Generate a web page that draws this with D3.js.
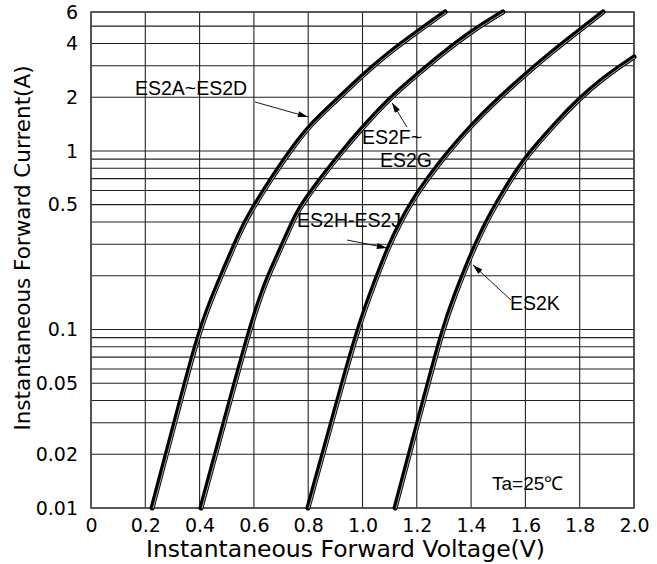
<!DOCTYPE html>
<html>
<head>
<meta charset="utf-8">
<script src="https://cdn.jsdelivr.net/npm/d3@7"></script>
<style>
body { margin: 0; background: #fff; }
</style>
</head>
<body>
<div id="chart"></div>
<script>
// forward characteristics (V, A)
var voltsAD = [0.225,0.313,0.401,0.468,0.549,0.586,0.685,0.744,0.807,0.906,1.002,1.101,1.201,1.304];
var ampsAD  = [0.01,0.0319,0.103,0.182,0.352,0.455,0.783,1.05,1.40,1.93,2.67,3.59,4.64,6.0];

var voltsFG = [0.405,0.495,0.586,0.641,0.685,0.726,0.759,0.807,0.862,0.924,1.002,1.101,1.201,1.293,1.403,1.517];
var ampsFG  = [0.01,0.0319,0.103,0.182,0.255,0.352,0.455,0.582,0.753,0.987,1.363,1.98,2.67,3.50,4.70,6.0];

var voltsHJ = [0.799,0.891,0.983,1.053,1.094,1.138,1.186,1.241,1.322,1.403,1.495,1.606,1.702,1.801,1.886];
var ampsHJ  = [0.01,0.0319,0.103,0.197,0.286,0.395,0.532,0.706,1.013,1.40,1.93,2.735,3.63,4.76,6.0];

var voltsK = [1.120,1.208,1.297,1.341,1.396,1.459,1.514,1.580,1.654,1.716,1.790,1.886,2.0];
var ampsK  = [0.01,0.0319,0.103,0.156,0.255,0.411,0.574,0.835,1.138,1.454,1.905,2.565,3.36];

var xTicks = [0,0.2,0.4,0.6,0.8,1.0,1.2,1.4,1.6,1.8,2.0];
var xTickLabels = ["0","0.2","0.4","0.6","0.8","1.0","1.2","1.4","1.6","1.8","2.0"];
var yTicks = [6,4,2,1,0.5,0.1,0.05,0.02,0.01];
var yTickLabels = ["6","4","2","1","0.5","0.1","0.05","0.02","0.01"];
var yGrid = [0.01,0.02,0.03,0.04,0.05,0.06,0.07,0.08,0.09,0.1,0.2,0.3,0.4,0.5,0.6,0.7,0.8,0.9,1,2,3,4,5,6];

// labels and leader arrows (data coordinates)
var noteText = ["ES2A~ES2D","ES2F~","ES2G","ES2H-ES2J","ES2K"];
var noteV = [0.162,0.998,1.064,0.759,1.543];
var noteI = [2.25,1.20,0.89,0.411,0.141];
var arrowFromV = [0.604,1.164,0.943,1.547];
var arrowFromI = [1.88,1.36,0.317,0.146];
var arrowToV = [0.799,1.109,1.090,1.407];
var arrowToI = [1.55,1.86,0.286,0.23];
var tempText = "Ta=25\u2103";
var tempV = 1.477, tempI = 0.0138;

var W = 657, H = 564;
var margin = {top: 12, right: 23, bottom: 56, left: 91},
    width = W - margin.left - margin.right,
    height = H - margin.top - margin.bottom;

var svg = d3.select("#chart")
  .append("svg")
    .attr("width", W)
    .attr("height", H)
  .append("g")
    .attr("transform", "translate(" + margin.left + "," + margin.top + ")");

var x = d3.scaleLinear().domain([0, 2]).range([0, width]);
var y = d3.scaleLog().domain([0.01, 6]).range([height, 0]);

// grid
svg.selectAll(".hgrid")
  .data(yGrid)
  .enter().append("line")
    .attr("class", "hgrid")
    .attr("x1", 0).attr("x2", width)
    .attr("y1", function(d) { return y(d); })
    .attr("y2", function(d) { return y(d); })
    .attr("stroke", "#222").attr("stroke-width", 1.1);

svg.selectAll(".vgrid")
  .data(xTicks)
  .enter().append("line")
    .attr("class", "vgrid")
    .attr("y1", 0).attr("y2", height)
    .attr("x1", function(d) { return x(d); })
    .attr("x2", function(d) { return x(d); })
    .attr("stroke", "#222").attr("stroke-width", 1.1);

svg.append("rect")
  .attr("width", width).attr("height", height)
  .attr("fill", "none").attr("stroke", "#444").attr("stroke-width", 1.5);

// axes (labels only)
svg.append("g")
  .attr("transform", "translate(0," + height + ")")
  .call(d3.axisBottom(x).tickValues(xTicks)
    .tickFormat(function(d, i) { return xTickLabels[i]; })
    .tickSize(0).tickPadding(11));
svg.append("g")
  .call(d3.axisLeft(y).tickValues(yTicks)
    .tickFormat(function(d, i) { return yTickLabels[i]; })
    .tickSize(0).tickPadding(13));
svg.selectAll(".domain").remove();
svg.selectAll(".tick text")
  .attr("font-family", "DejaVu Sans")
  .attr("font-size", 19)
  .attr("fill", "#000");

svg.append("text")
  .attr("x", width / 2 - 17)
  .attr("y", height + 49)
  .attr("text-anchor", "middle")
  .attr("font-family", "DejaVu Sans")
  .attr("font-size", 23.5)
  .text("Instantaneous Forward Voltage(V)");

svg.append("text")
  .attr("transform", "translate(-61," + (height / 2 - 12) + ") rotate(-90)")
  .attr("text-anchor", "middle")
  .attr("font-family", "DejaVu Sans")
  .attr("font-size", 21.5)
  .text("Instantaneous Forward Current(A)");

// curves
var series = [[voltsAD, ampsAD], [voltsFG, ampsFG], [voltsHJ, ampsHJ], [voltsK, ampsK]];
var line = d3.line()
  .x(function(d) { return x(d[0]); })
  .y(function(d) { return y(d[1]); })
  .curve(d3.curveBasis);

series.forEach(function(s) {
  var pts = s[0].map(function(v, i) { return [v, s[1][i]]; });
  svg.append("path")
    .attr("d", line(pts))
    .attr("fill", "none")
    .attr("stroke", "#000")
    .attr("stroke-width", 5)
    .attr("stroke-linecap", "round");
  svg.append("path")
    .attr("d", line(pts))
    .attr("transform", "translate(1,0.6)")
    .attr("fill", "none")
    .attr("stroke", "#d8d8d8")
    .attr("stroke-width", 0.8);
});

// arrows
svg.append("defs").append("marker")
  .attr("id", "head")
  .attr("viewBox", "0 0 10 6")
  .attr("refX", 10).attr("refY", 3)
  .attr("markerWidth", 12).attr("markerHeight", 6)
  .attr("markerUnits", "userSpaceOnUse")
  .attr("orient", "auto")
  .append("path").attr("d", "M0,0 L10,3 L0,6 Z").attr("fill", "#000");

svg.selectAll(".lead")
  .data(arrowFromV)
  .enter().append("line")
    .attr("class", "lead")
    .attr("x1", function(d) { return x(d); })
    .attr("y1", function(d, i) { return y(arrowFromI[i]); })
    .attr("x2", function(d, i) { return x(arrowToV[i]); })
    .attr("y2", function(d, i) { return y(arrowToI[i]); })
    .attr("stroke", "#000").attr("stroke-width", 0.9)
    .attr("marker-end", "url(#head)");

svg.selectAll(".note")
  .data(noteText)
  .enter().append("text")
    .attr("class", "note")
    .attr("x", function(d, i) { return x(noteV[i]); })
    .attr("y", function(d, i) { return y(noteI[i]); })
    .attr("dy", "0.36em")
    .attr("font-family", "Liberation Sans, Arial, sans-serif")
    .attr("font-size", 19.5)
    .text(function(d) { return d; });

svg.append("text")
  .attr("x", x(tempV)).attr("y", y(tempI))
  .attr("dy", "0.36em")
  .attr("font-family", "Liberation Sans, Arial, sans-serif")
  .attr("font-size", 19)
  .text(tempText);
</script>
</body>
</html>
